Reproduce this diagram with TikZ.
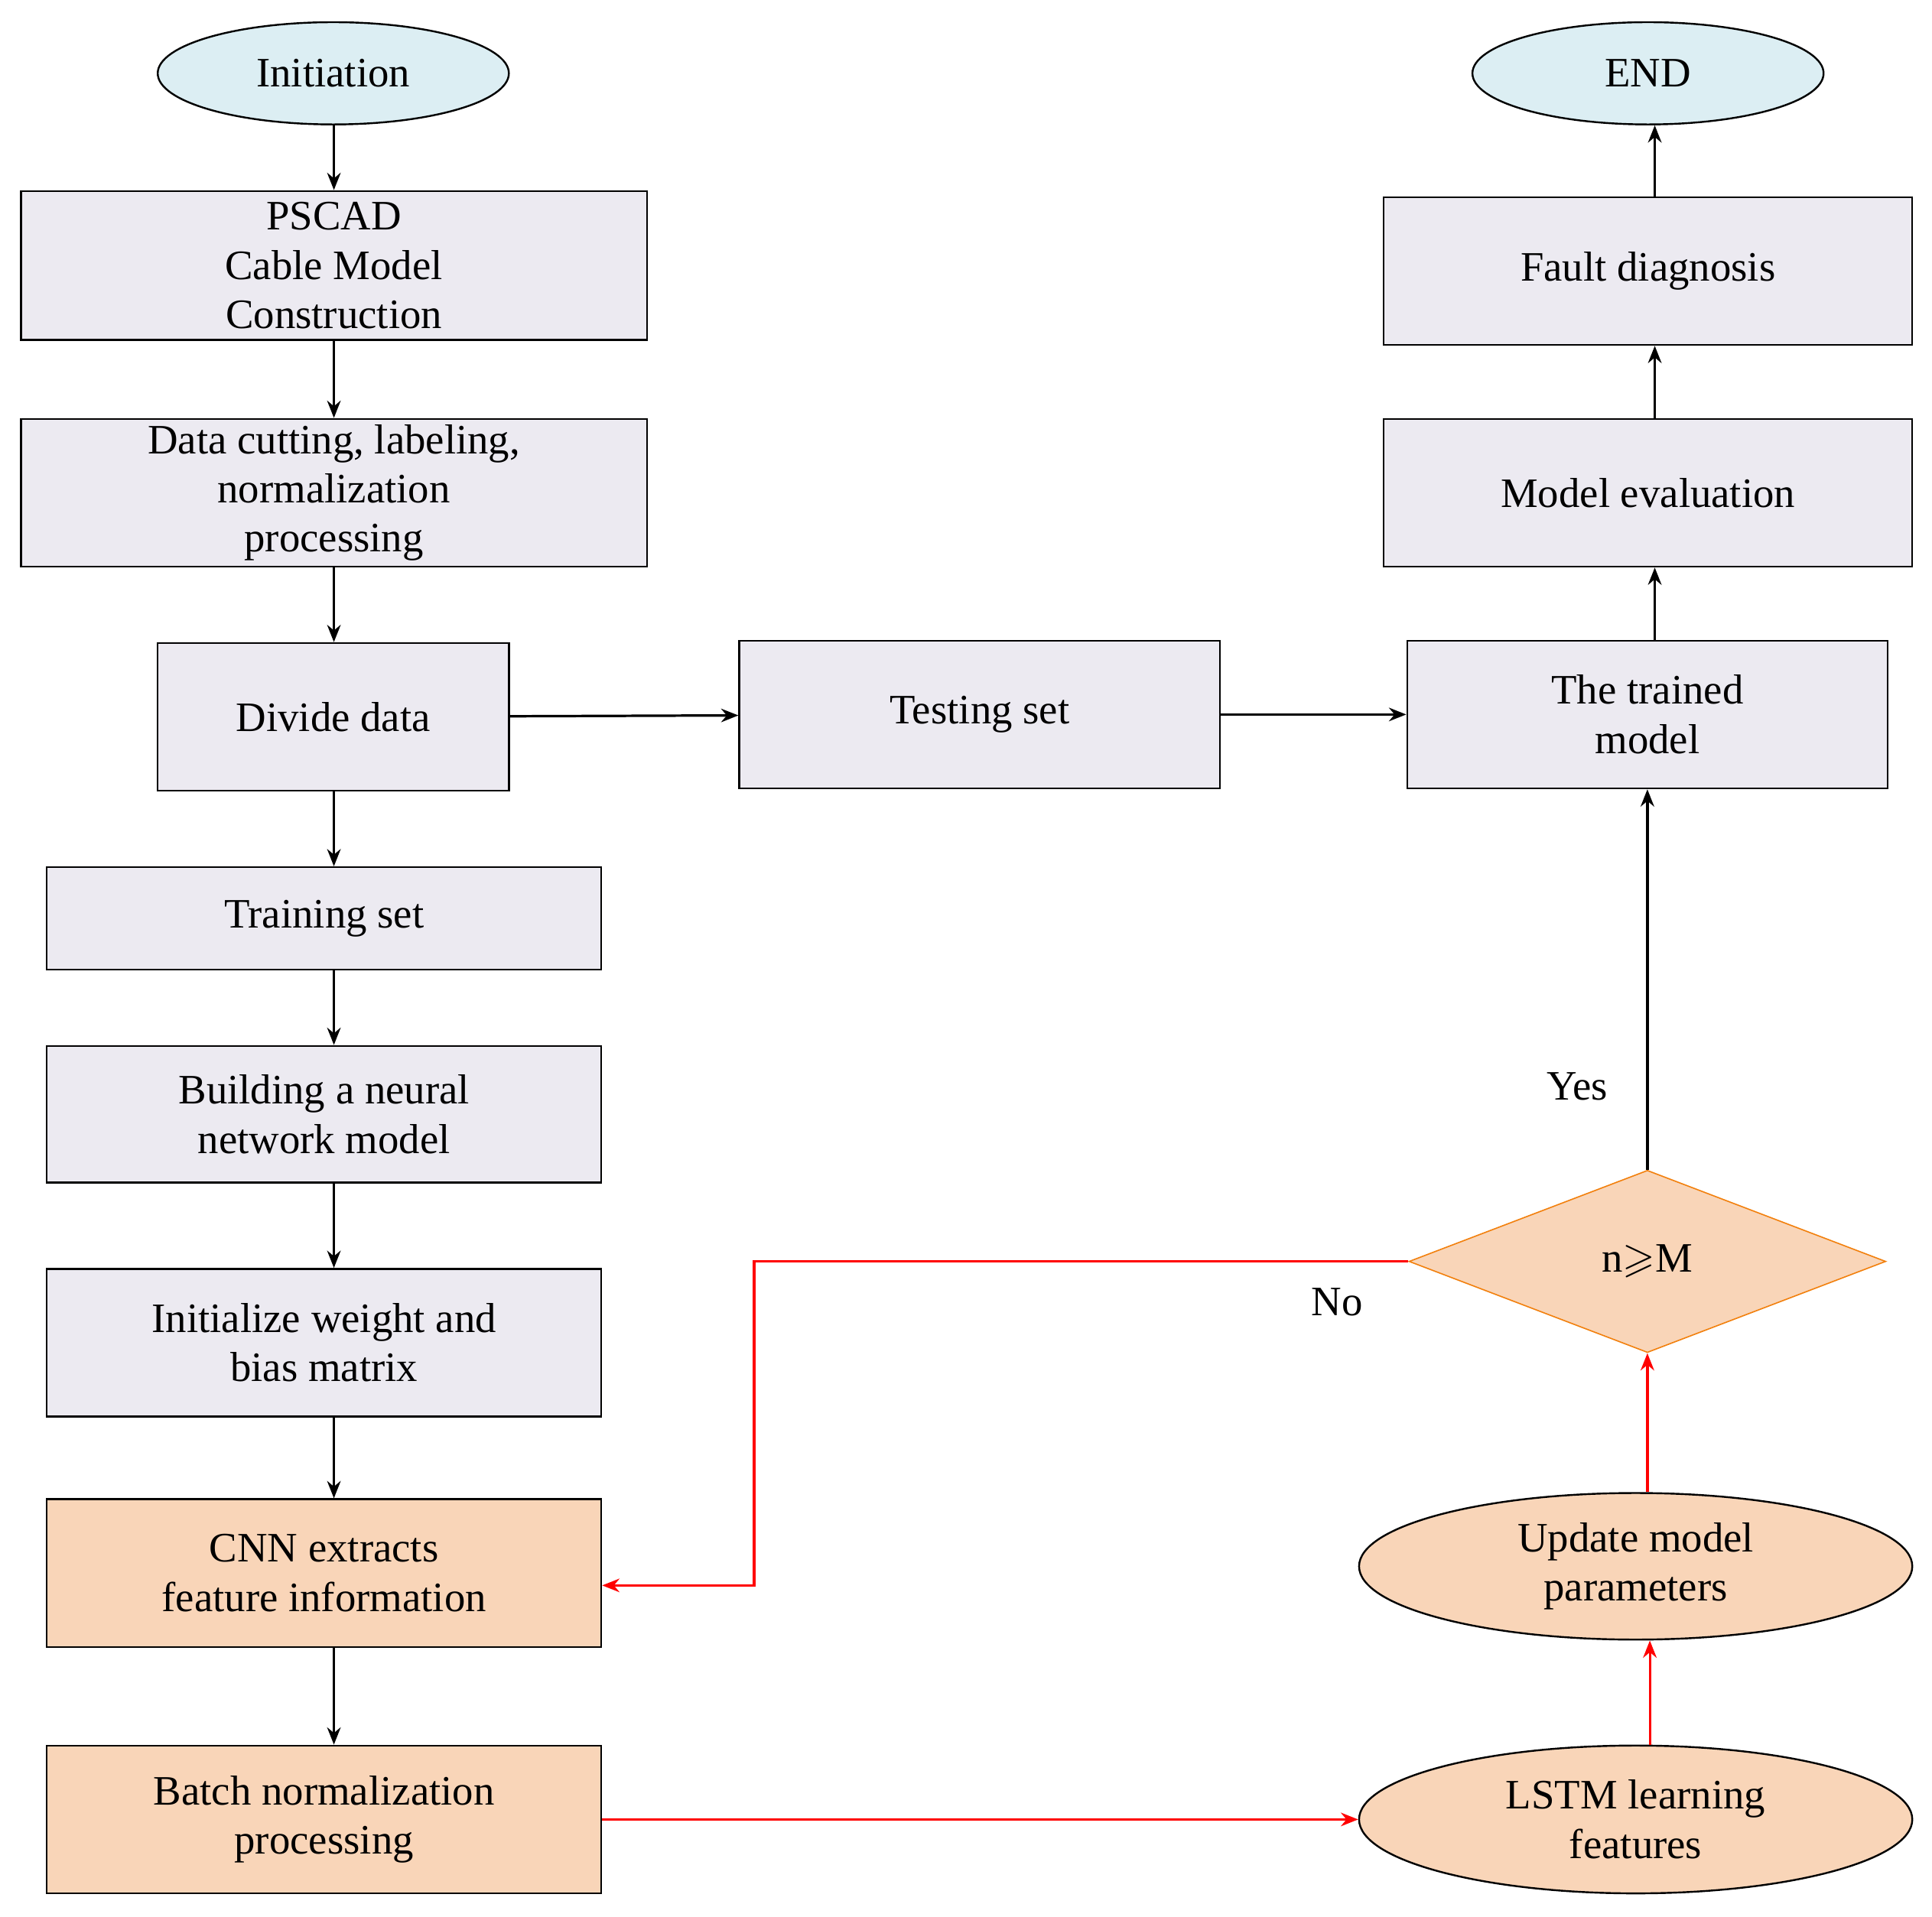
\documentclass[tikz,border=0pt]{standalone}
\usepackage{amssymb}
\usepackage{fontspec}
\setmainfont{Liberation Serif}
\usetikzlibrary{shapes.geometric,arrows.meta}
\definecolor{boxf}{HTML}{ECEAF1}
\definecolor{ellf}{HTML}{DCEEF3}
\definecolor{orf}{HTML}{F9D5B8}
\begin{document}
\begin{tikzpicture}[x=1pt,y=-1pt,
  every node/.style={font=\fontsize{34}{40}\selectfont,align=center,inner sep=0pt},
  box/.style={draw,line width=1.5pt,fill=boxf,rectangle},
  obox/.style={box,fill=orf},
  ell/.style={draw,line width=1.5pt,ellipse,fill=ellf},
  oell/.style={draw,line width=1.5pt,ellipse,fill=orf},
  arr/.style={line width=2pt,-{Stealth[length=14pt,width=11pt]}},
  rarr/.style={arr,red}]
\useasboundingbox (0,0) rectangle (1568,1556);
\newcommand{\bx}[6]{\node[#1,minimum width=#4-#3,minimum height=#6-#5] (#2) at ({(#3+#4)/2},{(#5+#6)/2})}
\bx{ell}{init}{128}{413}{18}{101} {Initiation};
\bx{box}{pscad}{17}{525}{155}{276} {PSCAD\\Cable Model\\Construction};
\bx{box}{cut}{17}{525}{340}{460} {Data cutting, labeling,\\normalization\\processing};
\bx{box}{div}{128}{413}{522}{642} {Divide data};
\bx{box}{test}{600}{990}{520}{640} {Testing set};
\bx{box}{trained}{1142}{1532}{520}{640} {The trained\\model};
\bx{box}{train}{38}{488}{704}{787} {Training set};
\bx{box}{build}{38}{488}{849}{960} {Building a neural\\network model};
\bx{box}{initw}{38}{488}{1030}{1150} {Initialize weight and\\bias matrix};
\bx{obox}{cnn}{38}{488}{1217}{1337} {CNN extracts\\feature information};
\bx{obox}{batch}{38}{488}{1417}{1537} {Batch normalization\\processing};
\bx{ell}{end}{1195}{1480}{18}{101} {END};
\bx{box}{fault}{1123}{1552}{160}{280} {Fault diagnosis};
\bx{box}{eval}{1123}{1552}{340}{460} {Model evaluation};
\bx{oell}{upd}{1103}{1552}{1212}{1331} {Update model\\parameters};
\bx{oell}{lstm}{1103}{1552}{1417}{1537} {LSTM learning\\features};
\node[diamond,draw=orange!80!brown,line width=1pt,fill=orf,minimum width=387,minimum height=148,aspect=2.6] (dia) at (1337,1024) {n$\geqslant$M};
\node at (1280,882) {Yes};
\node at (1085,1057) {No};
\foreach \a/\b in {init/pscad,pscad/cut,cut/div,div/train,train/build,build/initw,initw/cnn,cnn/batch}
  \draw[arr] (\a.south -| 271,0) -- (\b.north -| 271,0);
\draw[arr] (div) -- (test);
\draw[arr] (test) -- (trained);
\foreach \a/\b in {trained/eval,eval/fault,fault/end}
  \draw[arr] (\a.north -| 1343,0) -- (\b.south -| 1343,0);
\draw[arr] (dia.north) -- (trained.south -| dia.north);
\draw[rarr] (batch) -- (lstm);
\draw[rarr] (lstm.north -| 1339,0) -- (upd.south -| 1339,0);
\draw[rarr] (upd.north -| 1337,0) -- (dia.south);
\draw[rarr] (dia.west) -| (612,1287) -- (cnn.east |- 0,1287);
\end{tikzpicture}
\end{document}
